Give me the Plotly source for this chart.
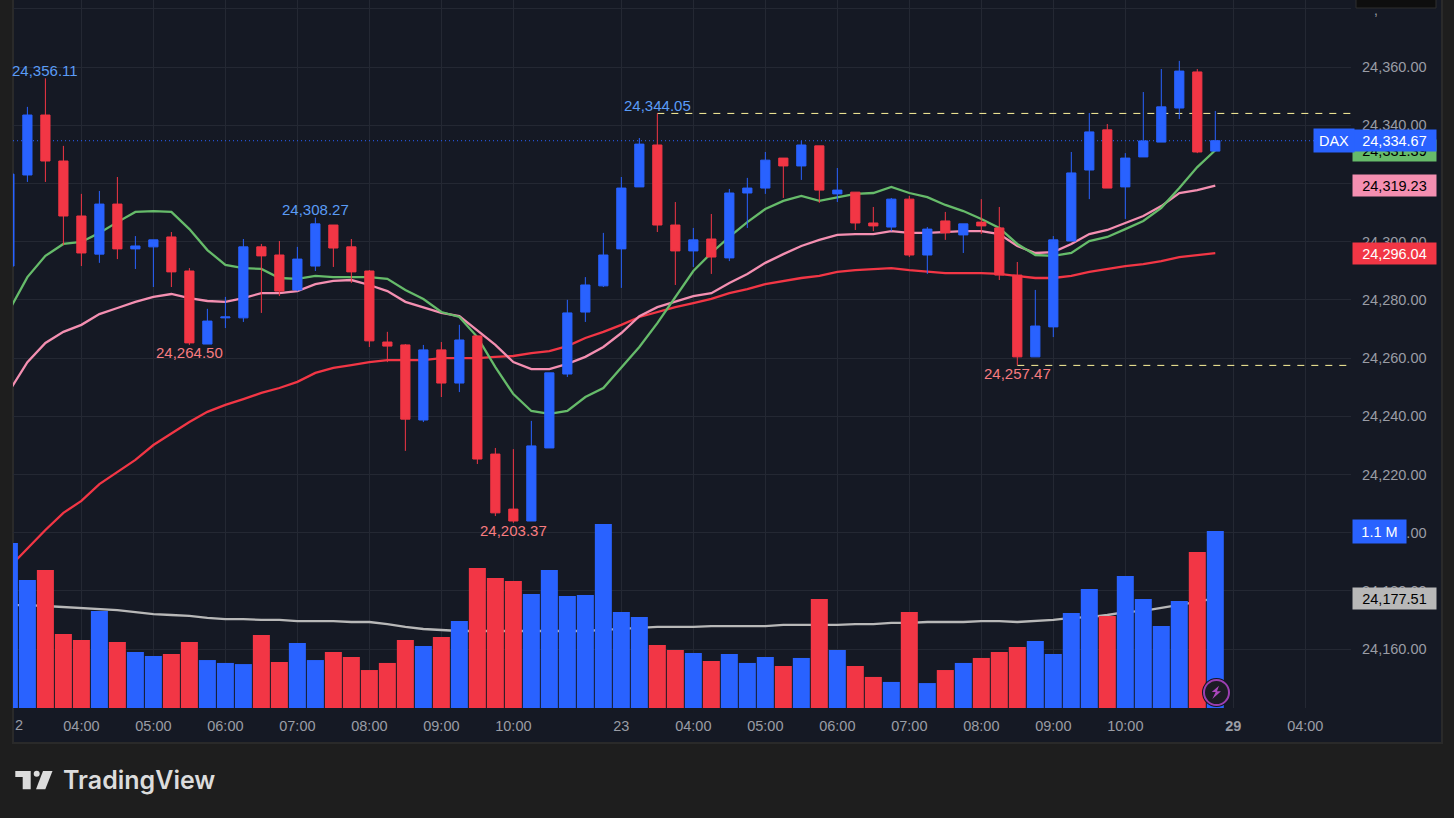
import plotly.graph_objects as go

# 15 min bars, x is the bar index (sessions are glued together like on the TV chart)
opens = [24291.6, 24322.9, 24343.5, 24327.7, 24308.8, 24295.7, 24312.9, 24297.5, 24298.2, 24301.6,
         24289.9, 24264.8, 24273.8, 24273.8, 24298.2, 24295.4, 24283.4, 24291.6, 24305.7, 24298.2,
         24289.9, 24265.5, 24264.5, 24238.7, 24262.8, 24251.4, 24267.6, 24227.0, 24208.1, 24204.0,
         24229.1, 24254.5, 24275.8, 24284.8, 24297.5, 24318.8, 24333.2, 24305.7, 24296.8, 24300.9,
         24294.4, 24316.7, 24318.4, 24328.7, 24326.0, 24332.9, 24316.4, 24317.0, 24306.4, 24305.0,
         24314.6, 24295.4, 24307.1, 24302.3, 24306.7, 24304.7, 24288.5, 24260.4, 24270.7, 24300.2,
         24324.6, 24338.4, 24318.8, 24329.1, 24334.2, 24345.9, 24358.3, 24331.1]
highs = [24323.2, 24346.3, 24356.11, 24332.9, 24316.4, 24317.4, 24322.2, 24301.9, 24300.6, 24303.3,
         24290.9, 24276.9, 24281.0, 24300.9, 24299.2, 24300.2, 24298.2, 24308.27, 24305.7, 24300.9,
         24290.2, 24269.0, 24264.8, 24264.5, 24265.5, 24271.4, 24267.6, 24229.1, 24228.7, 24238.4,
         24254.9, 24280.0, 24287.8, 24303.0, 24322.2, 24335.6, 24344.05, 24313.6, 24304.7, 24309.5,
         24318.1, 24321.9, 24330.8, 24328.7, 24334.6, 24332.9, 24325.3, 24317.0, 24311.9, 24315.0,
         24315.7, 24305.0, 24310.2, 24306.1, 24314.6, 24311.9, 24293.0, 24283.4, 24301.9, 24330.8,
         24344.2, 24340.4, 24330.4, 24351.4, 24359.3, 24362.1, 24359.3, 24344.9]
lows = [24291.6, 24320.5, 24320.5, 24298.8, 24291.6, 24292.7, 24294.0, 24290.6, 24284.4, 24284.4,
        24264.50, 24264.8, 24270.3, 24272.4, 24275.5, 24281.3, 24283.0, 24289.9, 24291.3, 24285.8,
        24263.8, 24258.6, 24228.1, 24238.0, 24246.6, 24248.3, 24223.6, 24205.7, 24203.37, 24204.0,
        24229.1, 24253.5, 24272.4, 24284.4, 24284.1, 24318.8, 24303.3, 24285.1, 24291.3, 24288.9,
        24293.3, 24304.7, 24316.4, 24315.0, 24321.2, 24313.3, 24313.6, 24304.0, 24303.6, 24303.6,
        24294.7, 24288.9, 24300.6, 24296.1, 24302.6, 24286.8, 24257.47, 24260.4, 24267.2, 24300.2,
        24314.6, 24318.4, 24307.8, 24329.1, 24334.2, 24342.1, 24330.4, 24331.1]
closes = [24323.2, 24343.5, 24327.7, 24308.8, 24296.1, 24312.9, 24297.5, 24298.5, 24300.6, 24289.6,
          24265.2, 24272.7, 24274.1, 24298.2, 24295.1, 24283.0, 24294.0, 24306.1, 24297.8, 24289.6,
          24265.9, 24264.1, 24239.0, 24262.8, 24251.4, 24266.2, 24225.3, 24206.8, 24204.0, 24229.8,
          24254.9, 24275.5, 24285.1, 24295.4, 24318.4, 24333.5, 24305.7, 24296.8, 24300.6, 24294.7,
          24316.7, 24318.4, 24328.0, 24326.0, 24333.2, 24317.7, 24317.7, 24306.4, 24305.4, 24314.6,
          24295.4, 24304.3, 24303.0, 24306.1, 24305.4, 24288.5, 24260.4, 24271.0, 24300.6, 24323.6,
          24337.7, 24318.4, 24328.7, 24334.6, 24346.3, 24358.6, 24330.8, 24334.67]

# volume in millions
volumes = [1.025, 0.796, 0.858, 0.460, 0.423, 0.603, 0.410, 0.348, 0.323, 0.336,
           0.410, 0.298, 0.280, 0.273, 0.454, 0.286, 0.404, 0.298, 0.348, 0.317,
           0.236, 0.280, 0.423, 0.385, 0.441, 0.541, 0.870, 0.808, 0.789, 0.709,
           0.858, 0.696, 0.702, 1.144, 0.597, 0.566, 0.392, 0.360, 0.342, 0.292,
           0.336, 0.280, 0.317, 0.261, 0.311, 0.677, 0.360, 0.261, 0.193, 0.162,
           0.597, 0.155, 0.236, 0.280, 0.311, 0.348, 0.379, 0.416, 0.336, 0.590,
           0.740, 0.572, 0.820, 0.677, 0.510, 0.665, 0.970, 1.100]

ma_green = [24276.5, 24287.8, 24295.1, 24299.2, 24299.9, 24303.0, 24306.7, 24310.2, 24310.5, 24310.2,
            24304.3, 24297.1, 24292.0, 24290.9, 24290.6, 24287.5, 24287.2, 24288.2, 24287.8, 24287.8,
            24287.8, 24287.2, 24283.4, 24280.3, 24275.8, 24274.1, 24267.2, 24256.9, 24247.6, 24241.8,
            24240.8, 24241.8, 24246.6, 24249.7, 24256.6, 24263.8, 24272.0, 24281.0, 24289.9, 24296.1,
            24301.6, 24306.7, 24311.2, 24314.0, 24315.7, 24314.0, 24315.3, 24316.4, 24316.7, 24318.8,
            24316.7, 24315.3, 24312.6, 24310.5, 24307.8, 24304.7, 24299.2, 24295.4, 24295.1, 24296.1,
            24300.2, 24301.6, 24304.3, 24307.1, 24311.6, 24318.4, 24325.6, 24331.39]
ma_pink = [24248.7, 24258.6, 24265.2, 24269.0, 24271.4, 24275.1, 24277.2, 24279.3, 24281.0, 24282.0,
           24280.6, 24279.6, 24279.3, 24280.6, 24282.3, 24282.3, 24283.0, 24285.4, 24286.5, 24286.8,
           24285.1, 24283.0, 24279.3, 24277.5, 24275.5, 24274.4, 24269.6, 24264.5, 24258.6, 24256.2,
           24256.2, 24258.0, 24260.4, 24263.8, 24268.6, 24274.4, 24277.5, 24279.3, 24281.3, 24282.3,
           24285.8, 24288.9, 24292.7, 24295.7, 24298.5, 24300.6, 24302.3, 24302.6, 24302.6, 24303.6,
           24303.0, 24303.0, 24303.3, 24303.6, 24303.6, 24302.6, 24298.5, 24296.1, 24296.4, 24299.2,
           24302.6, 24304.0, 24306.4, 24308.8, 24312.2, 24316.7, 24317.7, 24319.23]
ma_red = [24188.2, 24194.7, 24200.9, 24206.8, 24210.9, 24216.7, 24220.8, 24225.0, 24230.1, 24234.2,
          24238.0, 24241.5, 24243.9, 24245.9, 24248.0, 24249.7, 24251.8, 24254.9, 24256.6, 24257.6,
          24258.6, 24259.3, 24259.3, 24259.3, 24260.0, 24260.0, 24260.0, 24260.4, 24260.7, 24261.7,
          24262.4, 24264.1, 24266.9, 24269.0, 24271.4, 24274.1, 24275.8, 24277.5, 24278.9, 24280.3,
          24282.3, 24283.7, 24285.4, 24286.5, 24287.5, 24288.2, 24289.6, 24290.2, 24290.6, 24290.9,
          24290.2, 24289.6, 24289.2, 24289.2, 24289.2, 24288.9, 24288.2, 24287.5, 24287.5, 24288.2,
          24289.6, 24290.6, 24291.6, 24292.3, 24293.3, 24294.7, 24295.4, 24296.04]
ma_gray = [24175.1, 24175.1, 24174.8, 24174.5, 24174.1, 24173.8, 24173.4, 24172.7, 24172.0, 24171.7,
           24171.4, 24170.7, 24170.3, 24170.3, 24170.0, 24170.0, 24169.6, 24169.6, 24169.6, 24169.3,
           24169.3, 24168.6, 24167.6, 24166.9, 24166.6, 24166.2, 24166.2, 24166.2, 24166.2, 24166.2,
           24166.2, 24166.2, 24166.2, 24166.6, 24166.9, 24167.2, 24167.6, 24167.6, 24167.6, 24167.9,
           24167.9, 24167.9, 24167.9, 24168.3, 24168.3, 24168.3, 24168.3, 24168.6, 24168.6, 24169.0,
           24169.0, 24169.3, 24169.3, 24169.3, 24169.6, 24169.6, 24169.3, 24169.6, 24170.0, 24170.7,
           24171.0, 24171.7, 24172.7, 24173.1, 24174.1, 24175.1, 24176.2, 24177.51]

price_ticks = [24160, 24180, 24200, 24220, 24240, 24260, 24280, 24300, 24320, 24340, 24360, 24380]
price_ticktext = ["24,160.00", "24,180.00", "24,200.00", "24,220.00", "24,240.00", "24,260.00",
                  "24,280.00", "24,300.00", "24,320.00", "24,340.00", "24,360.00", ""]
time_ticks = [4, 8, 12, 16, 20, 24, 28, 34, 38, 42, 46, 50, 54, 58, 62, 68, 72]
time_ticktext = ["04:00", "05:00", "06:00", "07:00", "08:00", "09:00", "10:00", "23", "04:00", "05:00",
                 "06:00", "07:00", "08:00", "09:00", "10:00", "<b>29</b>", "04:00"]

last_price = 24334.67
high_mark = 24344.05
low_mark = 24257.47

# (bar index, price, text, up or down)
extreme_labels = [(2, 24356.11, "24,356.11", 1), (36, 24344.05, "24,344.05", 1), (17, 24308.27, "24,308.27", 1),
                  (10, 24264.50, "24,264.50", 0), (28, 24203.37, "24,203.37", 0), (56, 24257.47, "24,257.47", 0)]

BLUE = "#2962ff"
RED = "#f23645"
GREEN = "#66bb6a"
PINK = "#f48fb1"
GRAY = "#b8b8b8"
PANEL = "#151924"
PAGE = "#1e1e1e"
GRID = "#242833"
FONT = "Liberation Sans"

X_MIN, X_MAX = 0.2, 74.54
xs = list(range(len(closes)))


# screen pixel -> paper coords, only for the furniture around the chart
def px(x):
    return (x - 13) / 1338


def py(y):
    return (708 - y) / 708


fig = go.Figure()

for series, color in [(ma_gray, GRAY), (ma_red, RED), (ma_pink, PINK), (ma_green, GREEN)]:
    fig.add_trace(go.Scatter(x=xs, y=series, mode="lines", line=dict(color=color, width=2.3), zorder=0))

fig.add_trace(go.Scatter(x=[X_MIN, X_MAX], y=[last_price, last_price], mode="lines",
                         line=dict(color=BLUE, width=1, dash="1px,3px"), zorder=0))
fig.add_trace(go.Scatter(x=[36, X_MAX], y=[high_mark, high_mark], mode="lines",
                         line=dict(color="#fff59d", width=1, dash="7px,7px"), zorder=0))
fig.add_trace(go.Scatter(x=[56, X_MAX], y=[low_mark, low_mark], mode="lines",
                         line=dict(color="#fff59d", width=1, dash="7px,7px"), zorder=0))

fig.add_trace(go.Candlestick(x=xs, open=opens, high=highs, low=lows, close=closes, whiskerwidth=0, zorder=1,
                             increasing=dict(line=dict(color=BLUE, width=1), fillcolor=BLUE),
                             decreasing=dict(line=dict(color=RED, width=1), fillcolor=RED)))

vol_colors = [BLUE if c >= o else RED for o, c in zip(opens, closes)]
fig.add_trace(go.Bar(x=xs, y=volumes, marker=dict(color=vol_colors, line=dict(width=0)), yaxis="y2"))

annotations = []

for idx, price, text, up in extreme_labels:
    annotations.append(dict(x=idx, y=price, xref="x", yref="y", text=text, showarrow=False,
                            yshift=8 if up else -8, font=dict(family=FONT, size=15, color="#5b9cf6" if up else "#f77c80")))


def value_label(y, text, bg, fg, y2=False):
    annotations.append(dict(x=px(1352), y=y, xref="paper", yref="y2" if y2 else "y", text=text, showarrow=False,
                            xanchor="left", width=83, height=21, bgcolor=bg, borderpad=0, align="center",
                            font=dict(family=FONT, size=14.5, color=fg)))


value_label(ma_green[-1], "24,331.39", GREEN, "#000000")
value_label(ma_pink[-1], "24,319.23", PINK, "#000000")
value_label(ma_red[-1], "24,296.04", RED, "#ffffff")
value_label(ma_gray[-1], "24,177.51", GRAY, "#000000")
value_label(last_price, "24,334.67", BLUE, "#ffffff")
annotations.append(dict(x=px(1313), y=last_price, xref="paper", yref="y", text="DAX", showarrow=False, xanchor="left",
                        width=38, height=21, bgcolor=BLUE, font=dict(family=FONT, size=14.5, color="#ffffff")))
annotations.append(dict(x=px(1352), y=volumes[-1], xref="paper", yref="y2", text="1.1 M", showarrow=False, xanchor="left",
                        width=51, height=21, bgcolor=BLUE, font=dict(family=FONT, size=14.5, color="#ffffff")))

annotations.append(dict(x=px(13), y=py(725), xref="paper", yref="paper", text="2", showarrow=False, xanchor="left",
                        yanchor="middle", font=dict(family=FONT, size=14.5, color="#9a9da6")))
annotations.append(dict(x=px(1380), y=py(10), xref="paper", yref="paper", text=",", showarrow=False, yanchor="middle",
                        font=dict(family=FONT, size=14, color="#9a9da6")))
annotations.append(dict(x=px(61), y=py(780), xref="paper", yref="paper", text="TradingView", showarrow=False,
                        xanchor="left", yanchor="middle", font=dict(family="Inter", size=25, weight=600, color="#dcdcdc")))


def poly(points, color):
    path = "M " + " L ".join("%f %f" % (px(x), py(y)) for x, y in points) + " Z"
    return dict(type="path", xref="paper", yref="paper", fillcolor=color, line=dict(width=0), path=path)


shapes = [
    dict(type="rect", xref="paper", yref="paper", x0=px(13), x1=px(1442), y0=py(-5), y1=py(743), layer="below",
         fillcolor=PANEL, line=dict(color="#2a2a2a", width=2)),
    dict(type="rect", xref="paper", yref="paper", x0=px(1356), x1=px(1436), y0=py(-5), y1=py(8),
         fillcolor="#0e0e0e", line=dict(color="#2e2e2e", width=1)),
    # lightning badge on the last volume bar
    dict(type="circle", xref="paper", yref="paper", x0=px(1202), x1=px(1231), y0=py(707), y1=py(678),
         fillcolor="#131722", line=dict(width=0)),
    dict(type="circle", xref="paper", yref="paper", x0=px(1204), x1=px(1229), y0=py(705), y1=py(680),
         fillcolor="#1c1c24", line=dict(color="#9c3fb0", width=2)),
    poly([(1219, 685.7), (1211.7, 692), (1215.7, 692), (1212.3, 699), (1221, 691.3), (1217, 691.3)], "#ab47bc"),
    # TradingView logo
    poly([(15.3, 771), (30.7, 771), (30.7, 789.3), (22.7, 789.3), (22.7, 777), (15.3, 777)], "#dcdcdc"),
    dict(type="circle", xref="paper", yref="paper", x0=px(33.7), x1=px(39.7), y0=py(776.7), y1=py(770.7),
         fillcolor="#dcdcdc", line=dict(width=0)),
    poly([(43, 771), (52.5, 771), (45.3, 789.3), (36, 789.3)], "#dcdcdc"),
]

fig.update_layout(
    width=1454, height=818, margin=dict(l=13, r=103, t=0, b=110),
    paper_bgcolor=PAGE, plot_bgcolor=PANEL, showlegend=False, bargap=0.055, boxgap=0.27,
    xaxis=dict(range=[X_MIN, X_MAX], tickmode="array", tickvals=time_ticks, ticktext=time_ticktext,
               showgrid=True, gridcolor=GRID, gridwidth=1, zeroline=False, rangeslider=dict(visible=False),
               ticks="", ticklabelstandoff=7, tickfont=dict(family=FONT, size=14.5, color="#9a9da6")),
    yaxis=dict(range=[24139.75, 24383.02], side="right", tickmode="array", tickvals=price_ticks,
               ticktext=price_ticktext, showgrid=True, gridcolor=GRID, gridwidth=1, zeroline=False,
               ticks="", ticklabelstandoff=10, tickfont=dict(family=FONT, size=14.5, color="#9a9da6")),
    yaxis2=dict(range=[0, 4.4], overlaying="y", visible=False),
    annotations=annotations, shapes=shapes,
)

# the page's default 8px body margin would push everything off
fig.write_html("out.html", config={"displayModeBar": False},
               post_script="document.body.style.margin='0';document.body.style.overflow='hidden';")
